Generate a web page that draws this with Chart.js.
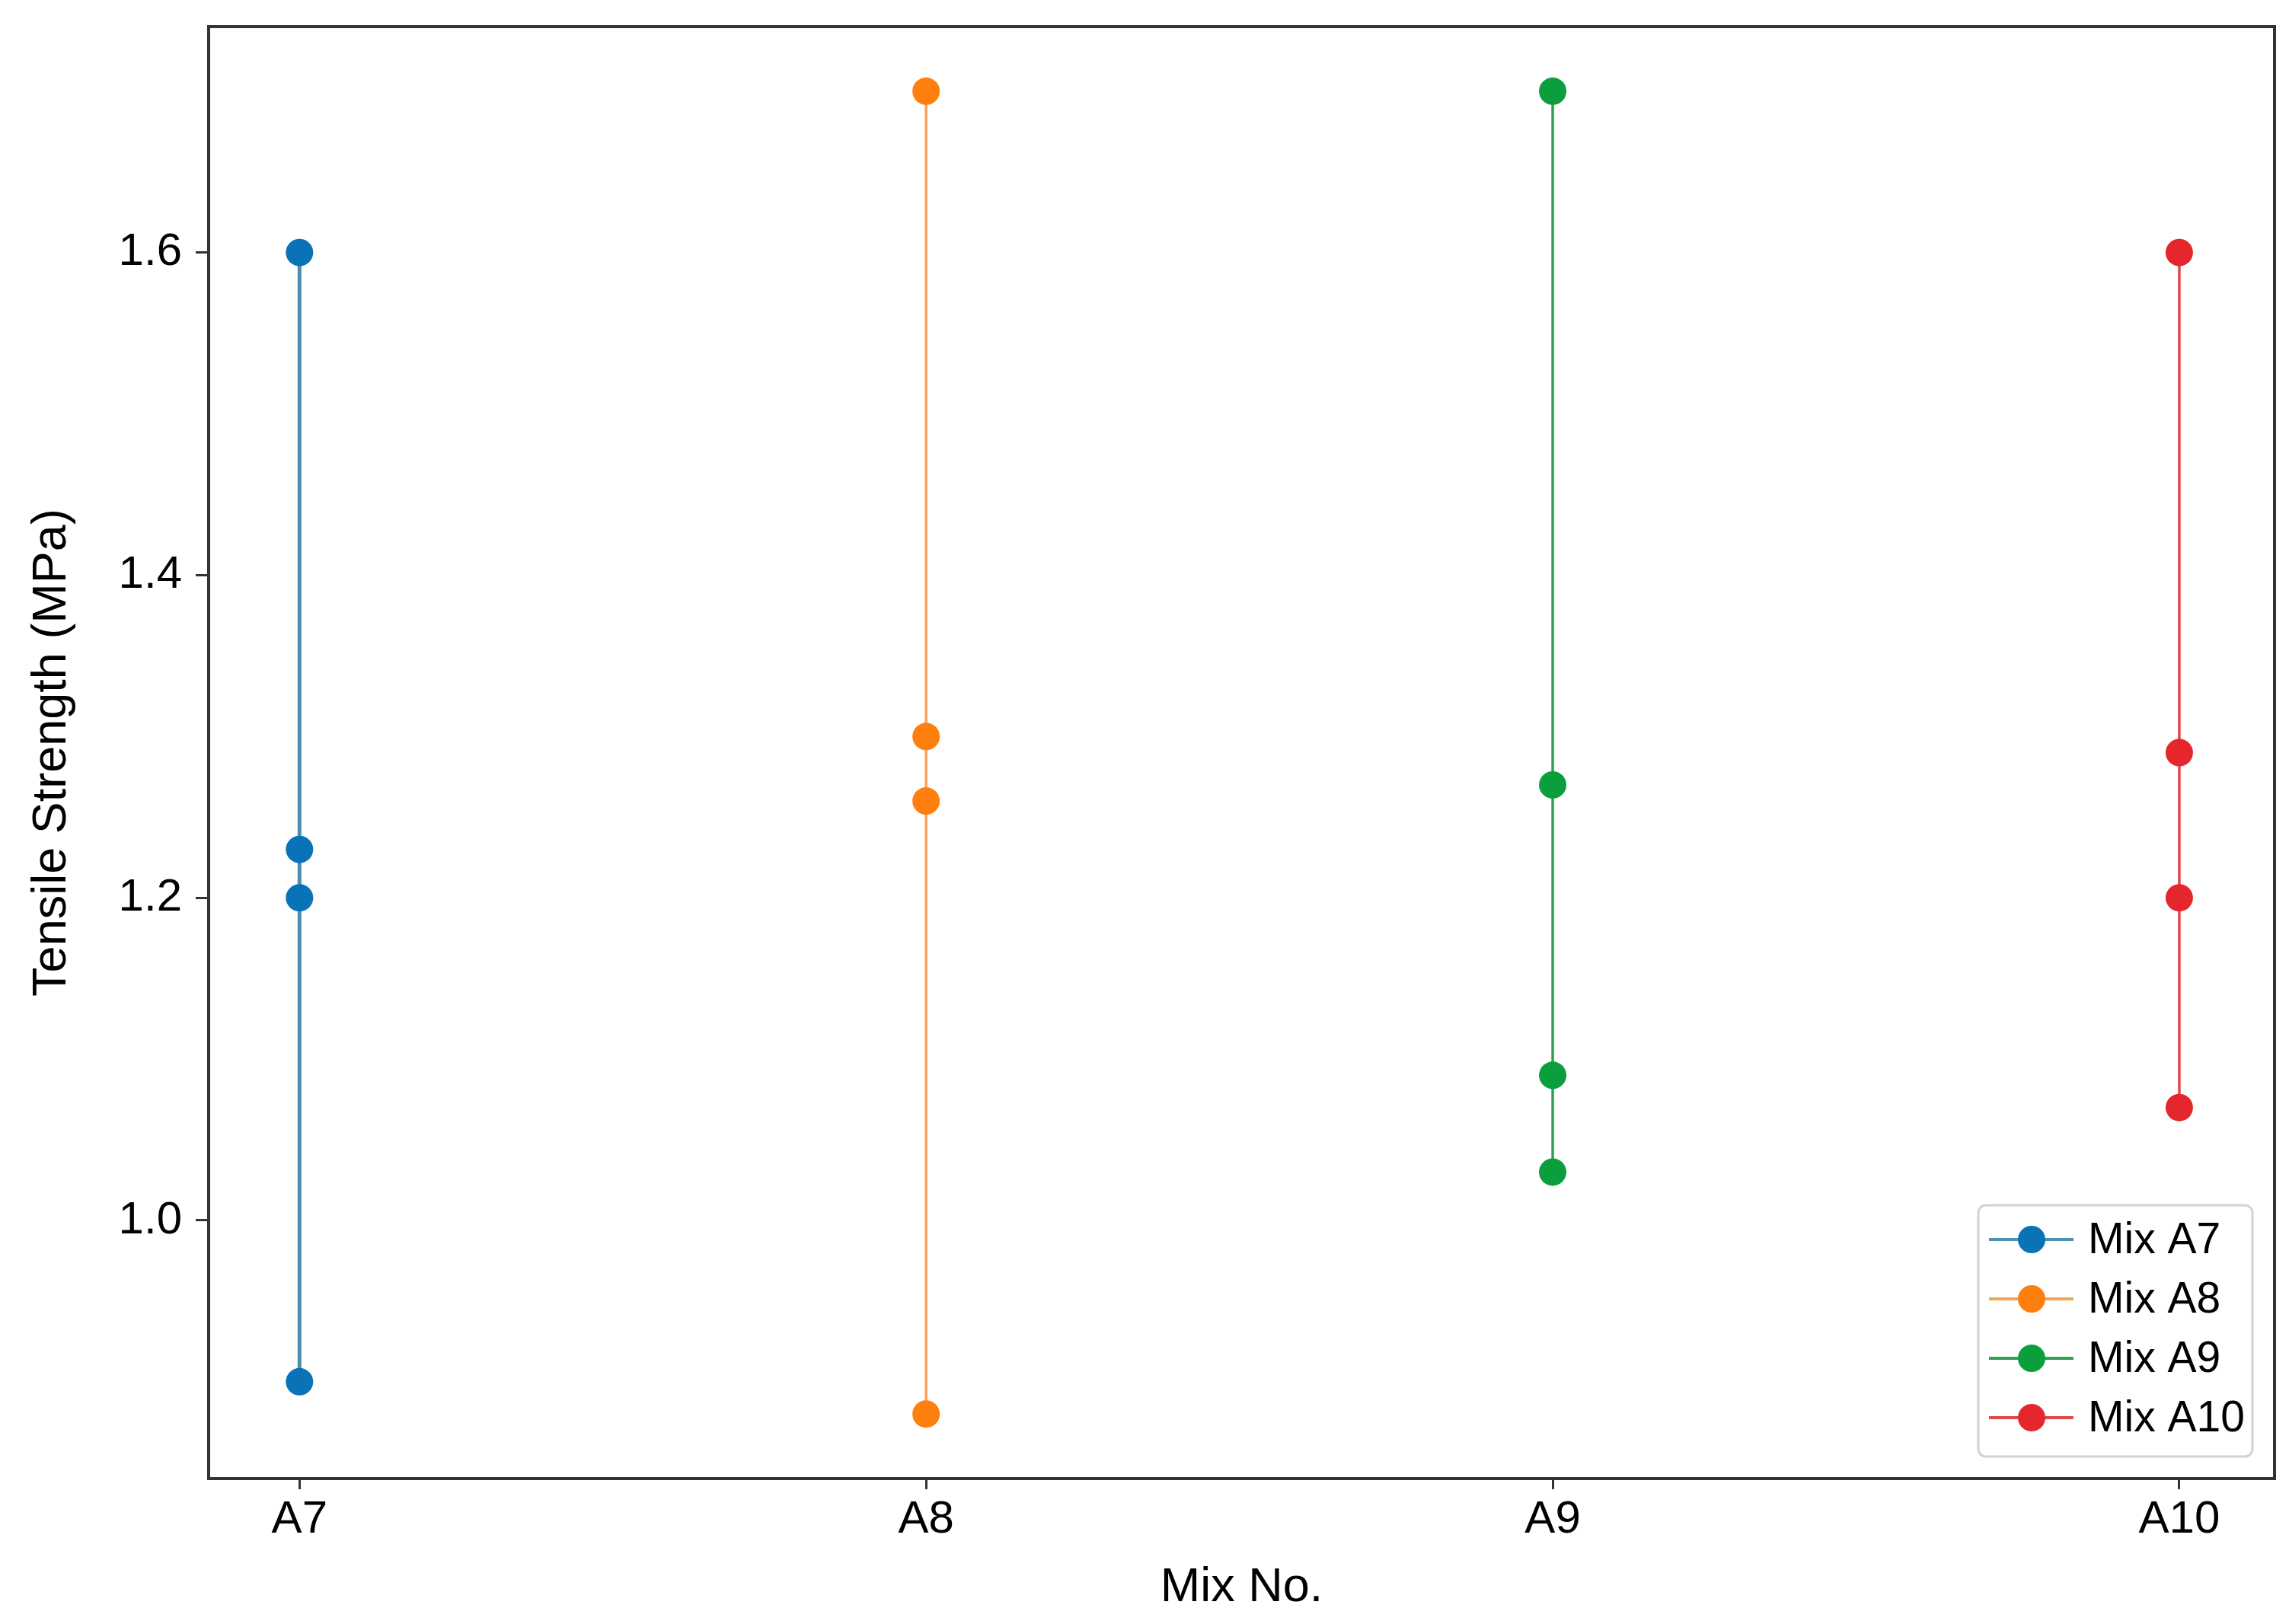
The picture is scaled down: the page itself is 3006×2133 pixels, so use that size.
<!DOCTYPE html>
<html>
<head>
<meta charset="utf-8">
<script src="https://cdn.jsdelivr.net/npm/chart.js@4.4.0/dist/chart.umd.min.js"></script>
<style>
  html, body { margin: 0; padding: 0; background: #fff; }
  #kutu { width: 3006px; height: 2133px; position: relative; }
</style>
</head>
<body>
<div id="kutu"><canvas id="grafik"></canvas></div>
<script>
// category labels and values
const mixLabels = ['A7', 'A8', 'A9', 'A10'];
const seriesNames = ['Mix A7', 'Mix A8', 'Mix A9', 'Mix A10'];
const mixA7 = [1.60, 1.23, 1.20, 0.90];
const mixA8 = [1.70, 1.30, 1.26, 0.88];
const mixA9 = [1.70, 1.27, 1.09, 1.03];
const mixA10 = [1.60, 1.29, 1.20, 1.07];
const yTicks = [1.0, 1.2, 1.4, 1.6];

const markerColors = ['#0a72b6', '#ff7f0e', '#0b9e3c', '#e4272c'];
const lineColors = ['#4d8fb0', '#f6a356', '#2f9f52', '#e0474b'];
const lineWidths = [5, 3.5, 3.5, 3.5];

const FONT = 'Arial, "Liberation Sans", sans-serif';

const allSeries = [mixA7, mixA8, mixA9, mixA10];
const datasets = allSeries.map((vals, i) => ({
    label: seriesNames[i],
    data: vals.map(v => ({ x: i, y: v })),
    borderColor: lineColors[i],
    borderWidth: lineWidths[i],
    pointBackgroundColor: markerColors[i],
    pointBorderColor: markerColors[i],
    pointBorderWidth: 0,
    pointRadius: 18,
    pointHoverRadius: 18,
    fill: false,
    tension: 0,
    clip: false
}));

// frame around the plot area
const cerceve = {
    id: 'cerceve',
    beforeDatasetsDraw(chart) {
        const { ctx, chartArea: a } = chart;
        ctx.save();
        ctx.strokeStyle = '#333';
        ctx.lineWidth = 4;
        ctx.strokeRect(a.left, a.top, a.right - a.left, a.bottom - a.top);
        ctx.restore();
    }
};

// legend box in the lower right corner
const lejant = {
    id: 'lejant',
    afterDraw(chart) {
        const { ctx, chartArea: a } = chart;
        const w = 360, h = 330;
        const x0 = a.right - 29 - w, y0 = a.bottom - 29 - h;
        ctx.save();
        ctx.beginPath();
        ctx.roundRect(x0, y0, w, h, 10);
        ctx.fillStyle = 'rgba(255,255,255,0.9)';
        ctx.fill();
        ctx.strokeStyle = '#d2d2d2';
        ctx.lineWidth = 3;
        ctx.stroke();
        chart.data.datasets.forEach((ds, i) => {
            const cy = y0 + 45 + i * 78;
            ctx.strokeStyle = ds.borderColor;
            ctx.lineWidth = 4;
            ctx.beginPath();
            ctx.moveTo(x0 + 14, cy);
            ctx.lineTo(x0 + 125, cy);
            ctx.stroke();
            ctx.fillStyle = ds.pointBackgroundColor;
            ctx.beginPath();
            ctx.arc(x0 + 70, cy, 18, 0, Math.PI * 2);
            ctx.fill();
            ctx.fillStyle = '#000';
            ctx.font = '57px ' + FONT;
            ctx.textBaseline = 'middle';
            ctx.textAlign = 'left';
            ctx.fillText(ds.label, x0 + 144, cy + 2);
        });
        ctx.restore();
    }
};

new Chart(document.getElementById('grafik').getContext('2d'), {
    type: 'line',
    data: { datasets: datasets },
    options: {
        responsive: true,
        maintainAspectRatio: false,
        animation: false,
        layout: { padding: { left: 0, top: 35, right: 19, bottom: 0 } },
        plugins: { legend: { display: false }, tooltip: { enabled: false } },
        scales: {
            x: {
                type: 'linear',
                min: -0.145,
                max: 3.152,
                afterBuildTicks: s => { s.ticks = mixLabels.map((_, i) => ({ value: i })); },
                afterFit: s => { s.height = 191; s.paddingLeft = 0; s.paddingRight = 0; },
                border: { display: false },
                grid: { drawOnChartArea: false, drawTicks: true, tickLength: 14, tickColor: '#333', tickWidth: 3 },
                ticks: {
                    color: '#000',
                    font: { family: FONT, size: 60 },
                    padding: 4,
                    maxRotation: 0,
                    autoSkip: false,
                    callback: v => mixLabels[v]
                },
                title: {
                    display: true,
                    text: 'Mix No.',
                    color: '#000',
                    font: { family: FONT, size: 63 },
                    padding: { top: 0, bottom: 10 }
                }
            },
            y: {
                min: 0.84,
                max: 1.74,
                afterBuildTicks: s => { s.ticks = yTicks.map(v => ({ value: v })); },
                afterFit: s => { s.width = 274; s.paddingTop = 0; s.paddingBottom = 0; },
                border: { display: false },
                grid: { drawOnChartArea: false, drawTicks: true, tickLength: 17, tickColor: '#333', tickWidth: 3 },
                ticks: {
                    color: '#000',
                    font: { family: FONT, size: 60 },
                    padding: 18,
                    callback: v => v.toFixed(1)
                },
                title: {
                    display: true,
                    text: 'Tensile Strength (MPa)',
                    color: '#000',
                    font: { family: FONT, size: 63 },
                    padding: { top: 31, bottom: 0 }
                }
            }
        }
    },
    plugins: [cerceve, lejant]
});
</script>
</body>
</html>
